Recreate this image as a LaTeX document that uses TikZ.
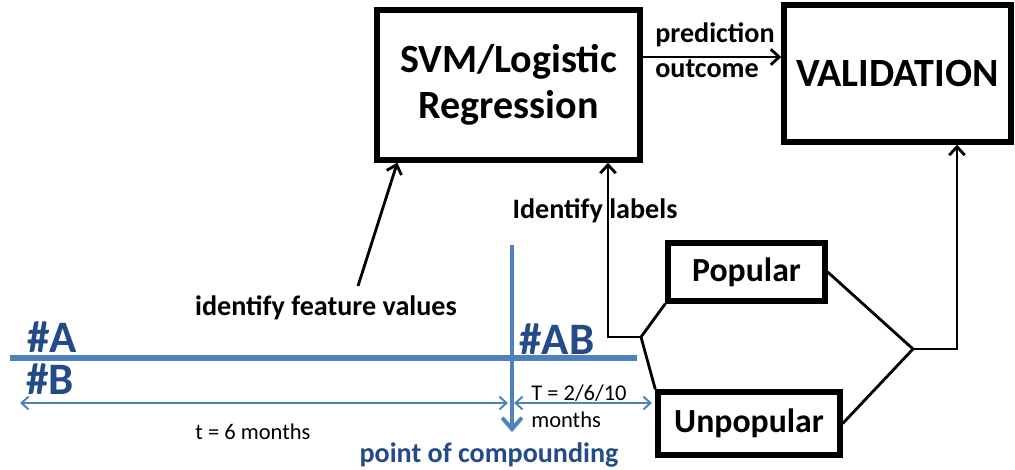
\documentclass[tikz,border=0pt]{standalone}
\usepackage{fontspec}
\setmainfont{Carlito}
\usetikzlibrary{arrows.meta, positioning}
\definecolor{lineblue}{RGB}{79,129,189}
\definecolor{textblue}{RGB}{35,75,135}

\begin{document}
\begin{tikzpicture}[x=0.025cm, y=-0.025cm,
    >={Straight Barb[length=6pt,width=11pt]},
    bigbox/.style={rectangle, draw, line width=3.8pt, align=center, font=\bfseries\fontsize{28.5}{33}\selectfont},
    smallbox/.style={rectangle, draw, line width=3.8pt, font=\bfseries\fontsize{24}{28}\selectfont},
    lbl/.style={font=\bfseries\fontsize{20}{25}\selectfont, inner sep=0pt},
    note/.style={font=\fontsize{16}{19}\selectfont, inner sep=0pt},
    tag/.style={text=textblue, font=\bfseries\fontsize{32}{36}\selectfont, inner sep=0pt},
    link/.style={line width=2pt},
    span/.style={draw=lineblue, line width=1.4pt, >={Straight Barb[length=5pt,width=9pt]}, <->}]
    \useasboundingbox (0,0) rectangle (1015,469);

    % boxes
    \node [bigbox, minimum width=6.575cm, minimum height=3.75cm] (svm) at (508.5,85) {SVM/Logistic\\Regression};
    \node [bigbox, minimum width=5.675cm, minimum height=3.425cm] (valid) at (897.5,73.5) {VALIDATION};
    \node [smallbox, minimum width=3.925cm, minimum height=1.45cm] (pop) at (746.5,272) {Popular};
    \node [smallbox, minimum width=4.55cm, minimum height=1.575cm] (unpop) at (749,423.5) {Unpopular};

    % labels
    \node [lbl, anchor=west, align=left] (pred) at (655,50.5) {prediction\\outcome};
    \node [lbl] (idlab) at (595,211) {Identify labels};
    \node [lbl] (feat) at (326,308) {identify feature values};

    % timeline
    \coordinate (tl0) at (10,358);
    \coordinate (tl1) at (637,358);
    \coordinate (cp0) at (512,245);
    \coordinate (cp1) at (512,432);
    \draw [lineblue, line width=4.2pt] (tl0) -- (tl1);
    \draw [lineblue, line width=2.8pt, -{Straight Barb[length=8pt,width=14pt]}] (cp0) -- (cp1);
    \node [tag] (a) at (52,337) {\#A};
    \node [tag] (b) at (50,379) {\#B};
    \node [tag] (ab) at (557,339) {\#AB};

    \coordinate (s0) at (20,403);
    \coordinate (s1) at (508,403);
    \coordinate (s2) at (514,403);
    \coordinate (s3) at (652,403);
    \draw [span] (s0) -- (s1);
    \draw [span] (s2) -- (s3);
    \node [note] (t6) at (253,432) {t = 6 months};
    \node [note, anchor=west, align=left] (tT) at (531,406) {T = 2/6/10\\months};
    \node [lbl, text=textblue] (pc) at (489,455) {point of compounding};

    % connectors
    \coordinate (po) at (642,57);
    \draw [link, ->] (po) -- (po -| valid.west);
    \coordinate (fa) at (358,286);
    \draw [link, ->] (fa) -- ([xshift=0.575cm]svm.south west);
    \coordinate (jl) at (641,337);
    \coordinate (lc) at (608,337);
    \draw [link, ->] (jl) -- (lc) -- (lc |- svm.south);
    \draw [link] (jl) -- (pop.south west);
    \draw [link] (jl) -- (unpop.north west);
    \coordinate (jr) at (913,349);
    \coordinate (rc) at (957,349);
    \draw [link] (pop.east) -- (jr) -- (unpop.east);
    \draw [link, ->] (jr) -- (rc) -- (rc |- valid.south);
\end{tikzpicture}
\end{document}
